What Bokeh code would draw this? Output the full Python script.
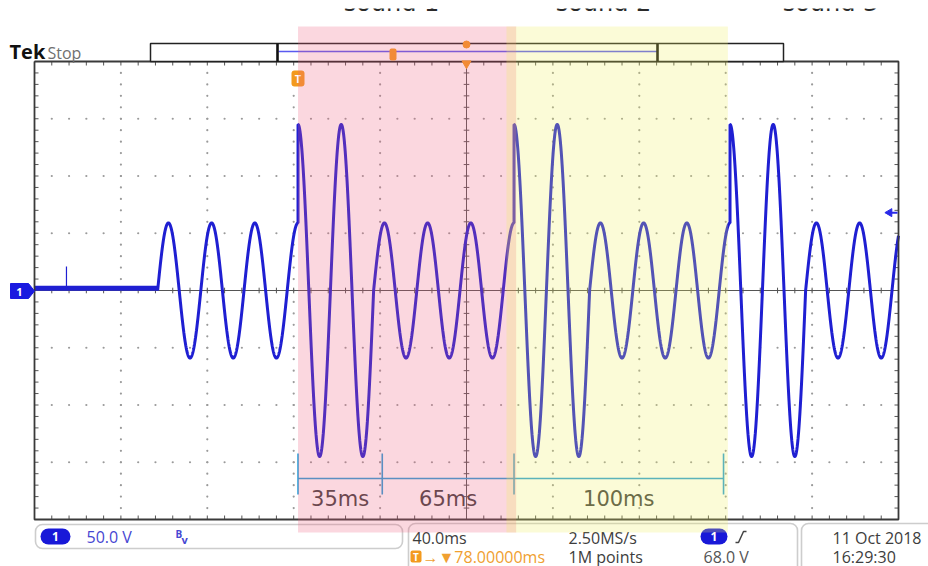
import numpy as np
from bokeh.plotting import figure
from bokeh.models import Range1d, Label, BoxAnnotation
from bokeh.embed import file_html
from bokeh.resources import INLINE
from bokeh.core.properties import value

# ---------------- data ----------------
ms_per_div = 40
volts_per_div = 50
n_hdiv = 10
n_vdiv = 8
carrier_hz = 50
noise_floor_v = 2
spike_ms = 14.8
spike_v = 21
seg_start_ms = [57, 122, 157, 222, 257, 322, 357]
seg_end_ms = [122, 157, 222, 257, 322, 357, 400]
seg_amp_v = [59, 145, 59, 145, 59, 145, 59]
region_start_ms = [122, 218.5]
region_end_ms = [223, 321]
region_colors = ["#f06080", "#f0f060"]
span_edges_ms = [122, 161, 222, 319]
span_labels = ["35ms", "65ms", "100ms"]
sound_names = ["sound 1", "sound 2", "sound 3"]
trigger_level_v = 68.0

# ---------------- screen geometry helpers (reference pixels -> data) ----------------
RX0, RY0 = 34.0, 290.0
PX_MS = 86.4 / ms_per_div
PX_V = 57.25 / volts_per_div


def tx(px):
    return (px - RX0) / PX_MS


def vy(py):
    return (RY0 - py) / PX_V


W, H = 928, 566
TOP = 8
p = figure(width=W, height=H, x_range=Range1d(tx(0), tx(W)),
           y_range=Range1d(vy(H), vy(TOP)), output_backend="svg",
           toolbar_location=None, x_axis_type=None, y_axis_type=None, min_border=0,
           min_border_top=TOP)
p.outline_line_color = None
p.background_fill_color = "white"
p.border_fill_color = "white"
p.xgrid.visible = False
p.ygrid.visible = False

FONT = "Open Sans"
T_END = ms_per_div * n_hdiv
V_TOP = volts_per_div * n_vdiv / 2
T_MID = T_END / 2
tmin = np.arange(0, T_END + 0.01, ms_per_div / 5)
vmin = np.arange(-V_TOP, V_TOP + 0.01, volts_per_div / 5)

# dotted graticule
dx, dy = [], []
for i in range(1, n_hdiv):
    if i == n_hdiv // 2:
        continue
    for v in vmin[1:-1]:
        dx.append(i * ms_per_div)
        dy.append(v)
for j in range(1, n_vdiv):
    if j == n_vdiv // 2:
        continue
    v = -V_TOP + j * volts_per_div
    for t in tmin[1:-1]:
        dx.append(t)
        dy.append(v)
p.scatter(dx, dy, size=2.2, color="#9a9a9a", line_color=None)

# center cross
p.multi_line([[T_MID, T_MID], [0, T_END]], [[-V_TOP, V_TOP], [0, 0]], line_color="#555555", line_width=1)
# ticks
Lt, Lv = 4 / PX_MS, 4 / PX_V
x0s, y0s, x1s, y1s = [], [], [], []
for t in tmin:
    x0s += [t, t, t]; x1s += [t, t, t]
    y0s += [V_TOP, -V_TOP, -Lv * 0.7]; y1s += [V_TOP - Lv, -V_TOP + Lv, Lv * 0.7]
for v in vmin:
    y0s += [v, v, v]; y1s += [v, v, v]
    x0s += [0, T_END, T_MID - Lt * 0.7]; x1s += [Lt, T_END - Lt, T_MID + Lt * 0.7]
p.segment(x0s, y0s, x1s, y1s, line_color="#555555", line_width=1)

# ---------------- signal ----------------
trace_col = "#1f1fd2"
p.line([0, seg_start_ms[0]], [noise_floor_v, noise_floor_v], line_color=trace_col, line_width=5)
p.segment([spike_ms], [noise_floor_v], [spike_ms], [spike_v], line_color=trace_col, line_width=1.2)
ts, vs = [], []
for s, e, a in zip(seg_start_ms, seg_end_ms, seg_amp_v):
    t = np.linspace(s, e, int((e - s) * 20) + 1)
    ts.append(t)
    vs.append(a * np.sin(2 * np.pi * carrier_hz * (t - seg_start_ms[0]) / 1000.0))
p.line(np.concatenate(ts), np.concatenate(vs), line_color=trace_col, line_width=3)

# border of graticule
p.multi_line([[0, T_END, T_END, 0, 0]], [[V_TOP, V_TOP, -V_TOP, -V_TOP, V_TOP]],
             line_color="#3a3a3a", line_width=1.8)

# channel 1 ground marker
p.patch([tx(10), tx(28), tx(34), tx(28), tx(10)],
        [vy(283), vy(283), vy(290.5), vy(298), vy(298)], fill_color="#1a1ae0", line_color="#1a1ae0")
# trigger level arrow
p.scatter([tx(889)], [trigger_level_v], marker="triangle", angle=np.pi / 2, size=8,
          color="#2a2ae8")
p.segment([tx(889)], [trigger_level_v], [tx(897)], [trigger_level_v], line_color="#2a2ae8", line_width=2)

# ---------------- record-view bar ----------------
p.quad(left=[tx(150)], right=[tx(783)], top=[vy(43)], bottom=[vy(61)],
       fill_color="white", line_color="#222222", line_width=1.5)
p.segment([tx(278)], [vy(51)], [tx(657)], [vy(51)], line_color="#5a5af0", line_width=1.6)
p.segment([tx(277), tx(657)], [vy(43), vy(43)], [tx(277), tx(657)], [vy(61), vy(61)],
          line_color="#111111", line_width=2.6)
p.scatter([T_MID], [vy(44)], marker="circle", size=7, color="#f39a1e")
p.scatter([T_MID], [vy(63)], marker="inverted_triangle", size=9, color="#f39a1e")

# trigger slope glyph (status area)
p.line([tx(735), tx(738), tx(743), tx(746)], [vy(542), vy(542), vy(531), vy(531)],
       line_color="#444444", line_width=1.5)

# cut-off headings at the very top (clipped by the frame like in the screenshot)
p.text(x=[tx(391), tx(603), tx(830)], y=[vy(16.5)] * 3, text=sound_names, text_align="center",
       text_baseline="bottom", text_font=value("DejaVu Sans"), text_font_size="24px",
       text_color="#2a2a2a")

# ---------------- span annotation ----------------
cyan = "#2a9fd8"
p.segment([span_edges_ms[0]], [vy(478)], [span_edges_ms[-1]], [vy(478)], line_color=cyan, line_width=1.6)
p.segment(span_edges_ms, [vy(453)] * len(span_edges_ms), span_edges_ms, [vy(494)] * len(span_edges_ms),
          line_color=cyan, line_width=1.6)
for i, lab in enumerate(span_labels):
    p.add_layout(Label(x=(span_edges_ms[i] + span_edges_ms[i + 1]) / 2, y=vy(498), text=lab,
                       text_align="center", text_baseline="middle", text_font="DejaVu Sans",
                       text_font_size="21px", text_color="#404040"))


# ---------------- texts / markers ----------------
def lab(px, py, text, size="16px", color="#3d3d3d", align="left", style="normal", font=FONT):
    p.add_layout(Label(x=tx(px), y=vy(py), text=text, text_align=align, text_baseline="middle",
                       text_font=font, text_font_size=size, text_color=color, text_font_style=style))


lab(19, 291, "1", size="11px", color="white", align="center", style="bold")
lab(9, 51, "Tek", size="20px", color="#111111", style="bold")
lab(47, 52, "Stop", size="16px", color="#707070")

# trigger position marker
p.add_layout(BoxAnnotation(left=tx(291), right=tx(304), top=vy(70), bottom=vy(86), fill_color="#f39a1e",
                           fill_alpha=1, line_color=None, border_radius=3))
lab(297.5, 78, "T", size="11px", color="white", align="center", style="bold")
p.add_layout(BoxAnnotation(left=tx(389), right=tx(396), top=vy(48), bottom=vy(60), fill_color="#f39a1e",
                           fill_alpha=1, line_color=None, border_radius=2))

# status boxes
for l, r, t, b in [(35, 402, 524, 548), (408, 797, 523, 580), (801, 940, 523, 580)]:
    p.add_layout(BoxAnnotation(left=tx(l), right=tx(r), top=vy(t), bottom=vy(b), fill_alpha=0,
                               line_color="#5a5a5a", line_width=1.6, border_radius=7))
for l, r in [(40, 70), (700, 727)]:
    p.add_layout(BoxAnnotation(left=tx(l), right=tx(r), top=vy(528), bottom=vy(544), fill_color="#1818d8",
                               fill_alpha=1, line_color=None, border_radius=8))
lab(55, 536, "1", size="12px", color="white", align="center", style="bold")
lab(713.5, 535.5, "1", size="12px", color="white", align="center", style="bold")
lab(86, 536, "50.0 V", color="#4646d2")
lab(175, 533, "B", size="10px", color="#4646d2", style="bold")
lab(181, 539, "v", size="11px", color="#4646d2", style="bold")
lab(412, 537, "40.0ms")
p.add_layout(BoxAnnotation(left=tx(410), right=tx(421), top=vy(550), bottom=vy(562), fill_color="#f39a1e",
                           fill_alpha=1, line_color=None, border_radius=2))
lab(415.5, 556, "T", size="10px", color="white", align="center", style="bold")
lab(422, 556, "→▼78.00000ms", color="#f0a030")
lab(568, 537, "2.50MS/s")
lab(568, 556, "1M points")
lab(703, 556, "68.0 V", color="#555555")
lab(832, 537, "11 Oct  2018")
lab(832, 556, "16:29:30")

# ---------------- translucent sound regions ----------------
for s, e, c in zip(region_start_ms, region_end_ms, region_colors):
    p.add_layout(BoxAnnotation(left=s, right=e, top=vy(26), bottom=vy(532), fill_color=c, fill_alpha=0.25,
                               line_color=None))

open("out.html", "w").write(file_html(p, INLINE))
